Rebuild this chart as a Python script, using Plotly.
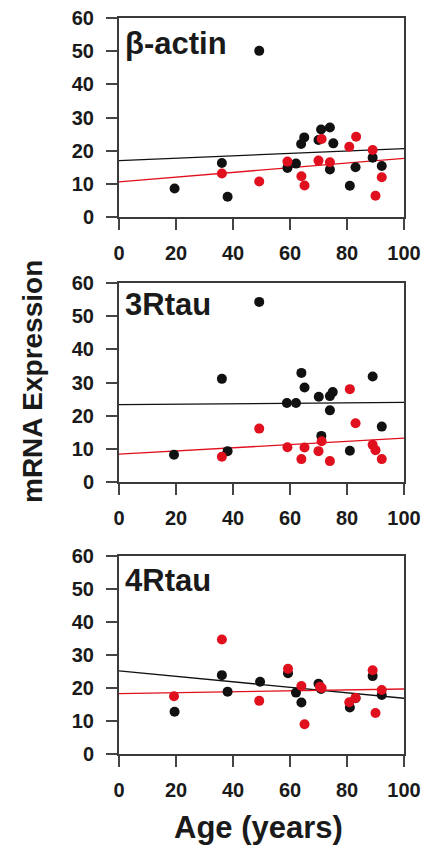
import plotly.graph_objects as go

# ---- data ----
panel_names = ["β-actin", "3Rtau", "4Rtau"]

actin_black_age = [19.5, 36.1, 38.1, 49.2, 59.1, 62.1, 63.9, 65.0, 70.0, 70.9, 74.0, 74.0, 75.2, 81.0, 83.0, 89.0, 92.2]
actin_black_val = [8.6, 16.3, 6.1, 50.1, 14.8, 16.1, 22.0, 24.0, 23.2, 26.4, 27.0, 14.3, 22.2, 9.4, 15.0, 17.9, 15.4]
actin_red_age = [36.1, 49.2, 59.1, 64.0, 65.1, 70.0, 71.1, 74.0, 80.8, 83.2, 89.0, 90.0, 92.2]
actin_red_val = [13.1, 10.7, 16.7, 12.3, 9.5, 17.0, 23.5, 16.5, 21.2, 24.2, 20.2, 6.4, 12.0]

r3_black_age = [19.3, 36.1, 38.1, 49.2, 58.9, 62.1, 64.0, 65.1, 70.1, 71.0, 74.0, 75.0, 74.0, 81.0, 89.0, 92.2]
r3_black_val = [8.2, 31.1, 9.3, 54.3, 23.8, 23.8, 32.9, 28.5, 25.7, 13.9, 25.9, 27.1, 21.6, 9.4, 31.8, 16.7]
r3_red_age = [36.1, 49.2, 59.1, 64.0, 65.1, 70.0, 71.1, 74.0, 81.0, 83.0, 89.0, 90.0, 92.2]
r3_red_val = [7.6, 16.1, 10.5, 6.9, 10.4, 9.3, 12.3, 6.3, 28.0, 17.7, 11.2, 9.6, 6.9]

r4_black_age = [19.5, 36.1, 38.1, 49.5, 59.3, 62.1, 64.0, 70.0, 70.9, 81.0, 83.0, 89.0, 92.2]
r4_black_val = [12.8, 23.9, 18.9, 21.9, 24.5, 18.6, 15.6, 21.3, 19.7, 14.1, 16.9, 23.6, 17.9]
r4_red_age = [19.3, 36.1, 49.2, 59.3, 64.0, 65.1, 70.5, 71.1, 80.8, 83.0, 89.0, 90.0, 92.2]
r4_red_val = [17.5, 34.7, 16.1, 25.8, 20.6, 9.0, 20.4, 20.0, 15.7, 17.0, 25.4, 12.4, 19.4]

fit_x = [0, 100]
actin_black_fit = [17.0, 20.6]
actin_red_fit = [10.6, 17.7]
r3_black_fit = [23.3, 24.0]
r3_red_fit = [8.4, 13.2]
r4_black_fit = [25.2, 16.9]
r4_red_fit = [18.3, 19.7]

x_ticks = [0, 20, 40, 60, 80, 100]
y_ticks = [0, 10, 20, 30, 40, 50, 60]

panels = [
    (actin_black_age, actin_black_val, actin_red_age, actin_red_val, actin_black_fit, actin_red_fit),
    (r3_black_age, r3_black_val, r3_red_age, r3_red_val, r3_black_fit, r3_red_fit),
    (r4_black_age, r4_black_val, r4_red_age, r4_red_val, r4_black_fit, r4_red_fit),
]

W, H = 427, 851
BLACK = "#111111"
RED = "#e0101e"
x_dom = [119 / W, 404 / W]
y_doms = [[(H - 217) / H, (H - 18) / H], [(H - 482) / H, (H - 283) / H], [(H - 754) / H, (H - 556) / H]]
title_y = [43, 304, 580]

fig = go.Figure()
FONT = "Liberation Sans, Arial, sans-serif"
TXT = "#1a1a1a"

for i, (bx, by, rx, ry, bfit, rfit) in enumerate(panels):
    n = "" if i == 0 else str(i + 1)
    xa, ya = "x" + n, "y" + n
    fig.add_trace(go.Scatter(x=fit_x, y=bfit, mode="lines", line=dict(color=BLACK, width=1.3),
                             xaxis=xa, yaxis=ya, showlegend=False, hoverinfo="skip"))
    fig.add_trace(go.Scatter(x=fit_x, y=rfit, mode="lines", line=dict(color=RED, width=1.3),
                             xaxis=xa, yaxis=ya, showlegend=False, hoverinfo="skip"))
    fig.add_trace(go.Scatter(x=bx, y=by, mode="markers", marker=dict(color=BLACK, size=10),
                             xaxis=xa, yaxis=ya, showlegend=False))
    fig.add_trace(go.Scatter(x=rx, y=ry, mode="markers", marker=dict(color=RED, size=10),
                             xaxis=xa, yaxis=ya, showlegend=False))
    axis_common = dict(showline=True, linecolor="#3a3a3a", linewidth=2, mirror=True,
                       ticks="outside", ticklen=11, tickwidth=1.8, tickcolor="#444444",
                       showgrid=False, zeroline=False, automargin=False,
                       tickfont=dict(family=FONT, size=20, color=TXT, weight="bold"))
    fig.update_layout(**{
        "xaxis" + n: dict(domain=x_dom, range=[0, 100], tickvals=x_ticks, anchor=ya,
                          ticklabelstandoff=6, **axis_common),
        "yaxis" + n: dict(domain=y_doms[i], range=[0, 60], tickvals=y_ticks, anchor=xa,
                          ticklabelstandoff=8, **axis_common),
    })
    fig.add_annotation(text=panel_names[i], x=123 / W, y=1 - title_y[i] / H, xref="paper", yref="paper",
                       xanchor="left", yanchor="middle", showarrow=False,
                       font=dict(family=FONT, size=31, color=TXT, weight="bold"))

fig.add_annotation(text="mRNA Expression", x=32 / W, y=1 - 382 / H, xref="paper", yref="paper",
                   textangle=-90, showarrow=False, xanchor="center", yanchor="middle",
                   font=dict(family=FONT, size=28, color=TXT, weight="bold"))
fig.add_annotation(text="Age (years)", x=258 / W, y=1 - 827 / H, xref="paper", yref="paper",
                   showarrow=False, xanchor="center", yanchor="middle",
                   font=dict(family=FONT, size=31, color=TXT, weight="bold"))

fig.update_layout(width=W, height=H, margin=dict(l=0, r=0, t=0, b=0, autoexpand=False),
                  paper_bgcolor="white", plot_bgcolor="white")
fig.write_html("out.html", config={"displayModeBar": False},
               post_script="document.body.style.margin='0';document.body.style.overflow='hidden';")
